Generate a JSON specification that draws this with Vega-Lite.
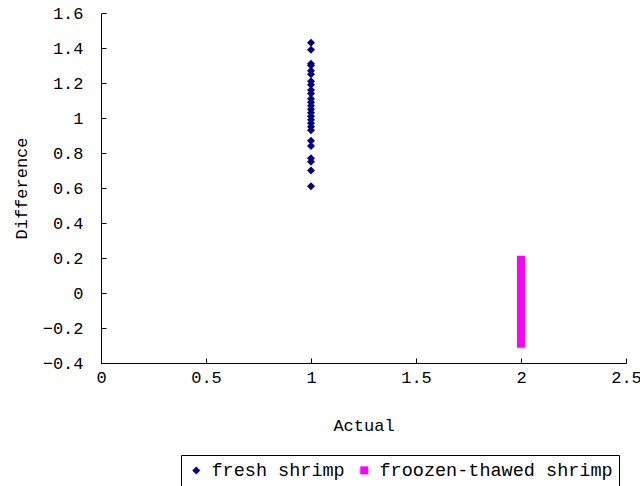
{
  "$schema": "https://vega.github.io/schema/vega-lite/v6.json",
  "autosize": "none",
  "width": 525,
  "height": 350,
  "padding": {"left": 101, "top": 13, "right": 14, "bottom": 123},
  "background": "white",
  "config": {
    "view": {"stroke": null},
    "font": "Liberation Mono",
    "axis": {"grid": false, "domainColor": "black", "tickColor": "black", "labelColor": "black", "titleColor": "black", "labelFont": "Liberation Mono", "titleFont": "Liberation Mono", "labelFontSize": 17, "titleFontSize": 17, "titleFontWeight": "normal"}
  },
  "data": {"values": [
    {"Actual": 1, "Difference": 1.43, "group": "fresh shrimp"},
    {"Actual": 1, "Difference": 1.39, "group": "fresh shrimp"},
    {"Actual": 1, "Difference": 1.31, "group": "fresh shrimp"},
    {"Actual": 1, "Difference": 1.30, "group": "fresh shrimp"},
    {"Actual": 1, "Difference": 1.27, "group": "fresh shrimp"},
    {"Actual": 1, "Difference": 1.25, "group": "fresh shrimp"},
    {"Actual": 1, "Difference": 1.21, "group": "fresh shrimp"},
    {"Actual": 1, "Difference": 1.19, "group": "fresh shrimp"},
    {"Actual": 1, "Difference": 1.16, "group": "fresh shrimp"},
    {"Actual": 1, "Difference": 1.14, "group": "fresh shrimp"},
    {"Actual": 1, "Difference": 1.11, "group": "fresh shrimp"},
    {"Actual": 1, "Difference": 1.09, "group": "fresh shrimp"},
    {"Actual": 1, "Difference": 1.07, "group": "fresh shrimp"},
    {"Actual": 1, "Difference": 1.05, "group": "fresh shrimp"},
    {"Actual": 1, "Difference": 1.03, "group": "fresh shrimp"},
    {"Actual": 1, "Difference": 1.01, "group": "fresh shrimp"},
    {"Actual": 1, "Difference": 0.99, "group": "fresh shrimp"},
    {"Actual": 1, "Difference": 0.97, "group": "fresh shrimp"},
    {"Actual": 1, "Difference": 0.95, "group": "fresh shrimp"},
    {"Actual": 1, "Difference": 0.93, "group": "fresh shrimp"},
    {"Actual": 1, "Difference": 0.87, "group": "fresh shrimp"},
    {"Actual": 1, "Difference": 0.84, "group": "fresh shrimp"},
    {"Actual": 1, "Difference": 0.77, "group": "fresh shrimp"},
    {"Actual": 1, "Difference": 0.75, "group": "fresh shrimp"},
    {"Actual": 1, "Difference": 0.70, "group": "fresh shrimp"},
    {"Actual": 1, "Difference": 0.61, "group": "fresh shrimp"},
    {"Actual": 2, "Difference": 0.19, "group": "froozen-thawed shrimp"},
    {"Actual": 2, "Difference": 0.17, "group": "froozen-thawed shrimp"},
    {"Actual": 2, "Difference": 0.15, "group": "froozen-thawed shrimp"},
    {"Actual": 2, "Difference": 0.13, "group": "froozen-thawed shrimp"},
    {"Actual": 2, "Difference": 0.11, "group": "froozen-thawed shrimp"},
    {"Actual": 2, "Difference": 0.09, "group": "froozen-thawed shrimp"},
    {"Actual": 2, "Difference": 0.07, "group": "froozen-thawed shrimp"},
    {"Actual": 2, "Difference": 0.05, "group": "froozen-thawed shrimp"},
    {"Actual": 2, "Difference": 0.03, "group": "froozen-thawed shrimp"},
    {"Actual": 2, "Difference": 0.01, "group": "froozen-thawed shrimp"},
    {"Actual": 2, "Difference": -0.01, "group": "froozen-thawed shrimp"},
    {"Actual": 2, "Difference": -0.03, "group": "froozen-thawed shrimp"},
    {"Actual": 2, "Difference": -0.05, "group": "froozen-thawed shrimp"},
    {"Actual": 2, "Difference": -0.07, "group": "froozen-thawed shrimp"},
    {"Actual": 2, "Difference": -0.09, "group": "froozen-thawed shrimp"},
    {"Actual": 2, "Difference": -0.11, "group": "froozen-thawed shrimp"},
    {"Actual": 2, "Difference": -0.13, "group": "froozen-thawed shrimp"},
    {"Actual": 2, "Difference": -0.15, "group": "froozen-thawed shrimp"},
    {"Actual": 2, "Difference": -0.17, "group": "froozen-thawed shrimp"},
    {"Actual": 2, "Difference": -0.19, "group": "froozen-thawed shrimp"},
    {"Actual": 2, "Difference": -0.21, "group": "froozen-thawed shrimp"},
    {"Actual": 2, "Difference": -0.23, "group": "froozen-thawed shrimp"},
    {"Actual": 2, "Difference": -0.25, "group": "froozen-thawed shrimp"},
    {"Actual": 2, "Difference": -0.27, "group": "froozen-thawed shrimp"},
    {"Actual": 2, "Difference": -0.29, "group": "froozen-thawed shrimp"}
  ]},
  "mark": {"type": "point", "filled": true, "opacity": 1, "size": 64},
  "encoding": {
    "x": {"field": "Actual", "type": "quantitative", "scale": {"domain": [0, 2.5], "nice": false, "zero": false}, "axis": {"values": [0, 0.5, 1, 1.5, 2, 2.5], "format": "~g", "tickSize": -5, "labelPadding": 11, "title": "Actual", "titlePadding": 32, "labelFlush": false}},
    "y": {"field": "Difference", "type": "quantitative", "scale": {"domain": [-0.4, 1.6], "nice": false, "zero": false}, "axis": {"values": [-0.4, -0.2, 0, 0.2, 0.4, 0.6, 0.8, 1, 1.2, 1.4, 1.6], "format": "~g", "tickSize": -5, "labelPadding": 23, "title": "Difference", "titlePadding": 12, "labelFlush": false}},
    "color": {"field": "group", "type": "nominal", "scale": {"domain": ["fresh shrimp", "froozen-thawed shrimp"], "range": ["#000080", "#FF00FF"]}, "legend": {"title": null, "orient": "none", "legendX": 80, "legendY": 442, "direction": "horizontal", "strokeColor": "black", "padding": 6, "labelFont": "Liberation Mono", "labelFontSize": 18.5, "labelColor": "black", "labelLimit": 400, "symbolSize": 64, "columnPadding": 10, "labelOffset": 6}},
    "shape": {"field": "group", "type": "nominal", "scale": {"domain": ["fresh shrimp", "froozen-thawed shrimp"], "range": ["diamond", "square"]}}
  }
}
